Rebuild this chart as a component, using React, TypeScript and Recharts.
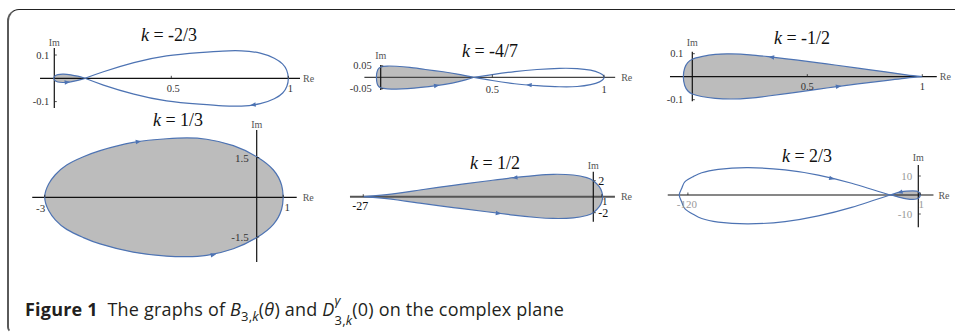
import React from 'react';
import { ComposedChart, Scatter, XAxis, YAxis } from 'recharts';

type P = [number, number];
type Tick = { v: number; t: string };
type Arrow = { x: number; y: number; a: number };

// ---------------- data (Re, Im) ----------------
// k = -2/3
const k1BigLoop: P[] = [[0.131,0],[0.21,0.028],[0.34,0.067],[0.48,0.096],[0.62,0.11],[0.72,0.117],[0.8,0.118],[0.88,0.108],[0.94,0.086],[0.975,0.062],[0.993,0.035],[1,0],[0.994,-0.034],[0.976,-0.063],[0.94,-0.088],[0.88,-0.109],[0.8,-0.119],[0.72,-0.118],[0.62,-0.111],[0.48,-0.097],[0.34,-0.068],[0.21,-0.029],[0.131,0]];
const k1SmallLobe: P[] = [[0.131,0],[0.1,0.009],[0.07,0.015],[0.04,0.018],[0.015,0.016],[0.002,0.009],[-0.002,0],[0.002,-0.009],[0.015,-0.016],[0.04,-0.018],[0.07,-0.015],[0.1,-0.009],[0.131,0]];
const k1ReTicks: Tick[] = [{ v: 0.5, t: '0.5' }, { v: 1, t: '1' }];
const k1ImTicks: Tick[] = [{ v: 0.1, t: '0.1' }, { v: -0.1, t: '-0.1' }];
const k1Arrows: Arrow[] = [{ x: 0.85, y: -0.114, a: 173 }, { x: 0.055, y: -0.017, a: -6 }];

// k = -4/7
const k2LeftLobe: P[] = [[0.418,0],[0.35,0.013],[0.28,0.024],[0.2,0.034],[0.13,0.043],[0.07,0.048],[0.03,0.049],[0.0,0.045],[-0.013,0.033],[-0.018,0.016],[-0.019,0],[-0.018,-0.017],[-0.013,-0.035],[0.0,-0.046],[0.03,-0.05],[0.07,-0.051],[0.12,-0.049],[0.18,-0.044],[0.25,-0.036],[0.32,-0.025],[0.38,-0.011],[0.418,0]];
const k2RightLobe: P[] = [[0.418,0],[0.5,0.012],[0.6,0.025],[0.7,0.034],[0.8,0.039],[0.88,0.038],[0.94,0.031],[0.98,0.019],[0.997,0.008],[1,0],[0.997,-0.008],[0.98,-0.02],[0.94,-0.032],[0.88,-0.04],[0.8,-0.041],[0.7,-0.036],[0.6,-0.028],[0.5,-0.014],[0.418,0]];
const k2ReTicks: Tick[] = [{ v: 0.5, t: '0.5' }, { v: 1, t: '1' }];
const k2ImTicks: Tick[] = [{ v: 0.05, t: '0.05' }, { v: -0.05, t: '-0.05' }];
const k2Arrows: Arrow[] = [{ x: 0.25, y: -0.036, a: -9 }, { x: 0.665, y: -0.033, a: 185 }];

// k = -1/2
const k3Loop: P[] = [[1,0],[0.93,0.008],[0.84,0.021],[0.72,0.037],[0.62,0.051],[0.55,0.06],[0.45,0.073],[0.33,0.087],[0.25,0.095],[0.17,0.099],[0.1,0.097],[0.04,0.087],[0.0,0.076],[-0.02,0.061],[-0.033,0.038],[-0.039,0],[-0.033,-0.038],[-0.02,-0.061],[0.0,-0.075],[0.04,-0.086],[0.1,-0.094],[0.17,-0.097],[0.25,-0.093],[0.33,-0.084],[0.45,-0.068],[0.55,-0.054],[0.62,-0.044],[0.72,-0.031],[0.84,-0.017],[0.93,-0.006],[1,0]];
const k3ReTicks: Tick[] = [{ v: 0.5, t: '0.5' }, { v: 1, t: '1' }];
const k3ImTicks: Tick[] = [{ v: 0.1, t: '0.1' }, { v: -0.1, t: '-0.1' }];
const k3Arrows: Arrow[] = [{ x: 0.345, y: 0.085, a: -173 }, { x: 0.635, y: -0.042, a: -8 }];

// k = 1/3
const k4Loop: P[] = [[1,0],[0.94,0.46],[0.63,1.03],[0,1.53],[-0.88,1.95],[-1.89,2.19],[-2.64,2.24],[-3.4,2.21],[-4.66,2.07],[-5.91,1.76],[-6.54,1.53],[-7.17,1.22],[-7.6,0.85],[-7.85,0.5],[-8,0],[-7.85,-0.5],[-7.6,-0.85],[-7.17,-1.21],[-6.54,-1.52],[-5.91,-1.76],[-4.66,-2.07],[-3.4,-2.22],[-2.64,-2.24],[-1.89,-2.19],[-0.88,-1.94],[0,-1.52],[0.63,-1.02],[0.94,-0.45],[1,0]];
const k4ReTicks: Tick[] = [{ v: -8, t: '-3' }, { v: 1, t: '1' }];
const k4ImTicks: Tick[] = [{ v: 1.5, t: '1.5' }, { v: -1.5, t: '-1.5' }];
const k4Arrows: Arrow[] = [{ x: -4.47, y: 2.1, a: -8 }, { x: -1.64, y: -2.17, a: -10 }];

// k = 1/2
const k5Loop: P[] = [[-27,0],[-24.25,0.25],[-20.35,0.84],[-16.43,1.42],[-12.51,1.96],[-9.39,2.38],[-6.64,2.67],[-4.69,2.8],[-2.35,2.71],[-0.77,2.38],[0,2.0],[0.7,1.25],[1.0,0.6],[1.1,0],[1.0,-0.6],[0.7,-1.25],[0,-2.0],[-0.77,-2.35],[-2.35,-2.65],[-4.69,-2.72],[-6.64,-2.6],[-9.39,-2.3],[-12.51,-1.88],[-16.43,-1.36],[-20.35,-0.8],[-24.25,-0.24],[-27,0]];
const k5ReTicks: Tick[] = [{ v: -27, t: '-27' }, { v: 1, t: '1' }];
const k5ImTicks: Tick[] = [{ v: 2, t: '2' }, { v: -2, t: '-2' }];
const k5Arrows: Arrow[] = [{ x: -9.19, y: 2.38, a: 172 }, { x: -11.15, y: -2.07, a: 7 }];

// k = 2/3
const k6BigLoop: P[] = [[-14.7,0],[-34.7,6.2],[-52.1,10.5],[-69.4,13.2],[-88.5,14.4],[-104.2,13.5],[-112.8,11.7],[-117,9.8],[-121.5,7.0],[-123.2,3.5],[-124.5,0],[-123.2,-3.7],[-121.5,-7.3],[-117,-10.3],[-112.8,-12.4],[-104.2,-14.3],[-88.5,-15.2],[-69.4,-14.0],[-52.1,-11.0],[-34.7,-6.5],[-14.7,0]];
const k6SmallLobe: P[] = [[-14.7,0],[-12,0.85],[-9,1.6],[-6,2.0],[-3,2.15],[-1,2.0],[0.3,1.5],[0.9,0.7],[1,0],[0.9,-0.7],[0.3,-1.5],[-1,-2.1],[-3,-2.3],[-6,-2.0],[-9,-1.4],[-12,-0.6],[-14.7,0]];
const k6ReTicks: Tick[] = [{ v: -120, t: '-120' }, { v: 1, t: '1' }];
const k6ImTicks: Tick[] = [{ v: 10, t: '10' }, { v: -10, t: '-10' }];
const k6Arrows: Arrow[] = [{ x: -45.1, y: 8.7, a: 14 }, { x: -9.5, y: 1.5, a: 165 }];

// ---------------- styling / layout ----------------
const BLUE = '#4d73b3';
const FILL = '#bcbcbc';
const SERIF = 'Liberation Serif';

interface Cfg {
  title: string;
  titleAt: [number, number];
  box: { left: number; top: number; width: number; height: number };
  origin: [number, number];
  scale: [number, number];
  reAxis: [number, number];
  imAxis: [number, number];
  loops: P[][];
  fills: P[][];
  reTicks: Tick[];
  imTicks: Tick[];
  arrows: Arrow[];
  tickColor: string;
  tickSize: number;
  reDy: number;
  reDyPos: number;
  reSizePos: number;
  reOut: number;
  imGap: number;
  imSide: 'left' | 'right';
  reGap: number;
  imNameDy: number;
  reStroke: string;
  reWidth: number;
}

const plots: Cfg[] = [
  {
    title: '-2/3', titleAt: [169, 35],
    box: { left: 30, top: 25, width: 295, height: 90 }, origin: [54.3, 78.3], scale: [234, 233],
    reAxis: [-0.061, 1.05], imAxis: [-0.127, 0.13],
    loops: [k1BigLoop, k1SmallLobe], fills: [k1SmallLobe],
    reTicks: k1ReTicks, imTicks: k1ImTicks, arrows: k1Arrows,
    tickColor: '#333', tickSize: 10.5, reDy: 10, reDyPos: 10, reSizePos: 10.5, reOut: 2, imGap: 5, imSide: 'left', reGap: 3, imNameDy: -6,
    reStroke: '#111', reWidth: 1.2,
  },
  {
    title: '-4/7', titleAt: [490, 51],
    box: { left: 335, top: 42, width: 300, height: 58 }, origin: [380.7, 77.3], scale: [223.3, 230],
    reAxis: [-0.073, 1.05], imAxis: [-0.055, 0.053],
    loops: [k2LeftLobe, k2RightLobe], fills: [k2LeftLobe],
    reTicks: k2ReTicks, imTicks: k2ImTicks, arrows: k2Arrows,
    tickColor: '#333', tickSize: 10.5, reDy: 12, reDyPos: 12, reSizePos: 10.5, reOut: 0, imGap: 9, imSide: 'left', reGap: 6, imNameDy: -10,
    reStroke: '#444', reWidth: 1.3,
  },
  {
    title: '-1/2', titleAt: [802, 38],
    box: { left: 650, top: 30, width: 305, height: 80 }, origin: [692.3, 76.7], scale: [230, 230],
    reAxis: [-0.097, 1.063], imAxis: [-0.107, 0.109],
    loops: [k3Loop], fills: [k3Loop],
    reTicks: k3ReTicks, imTicks: k3ImTicks, arrows: k3Arrows,
    tickColor: '#333', tickSize: 10.5, reDy: 10, reDyPos: 10, reSizePos: 10.5, reOut: 0, imGap: 9, imSide: 'left', reGap: 3, imNameDy: -9,
    reStroke: '#111', reWidth: 1.2,
  },
  {
    title: '1/3', titleAt: [178, 120],
    box: { left: 20, top: 115, width: 300, height: 155 }, origin: [256.7, 197.3], scale: [26.5, 26.5],
    reAxis: [-8.47, 1.51], imAxis: [-2.44, 2.54],
    loops: [k4Loop], fills: [k4Loop],
    reTicks: k4ReTicks, imTicks: k4ImTicks, arrows: k4Arrows,
    tickColor: '#333', tickSize: 11, reDy: 11, reDyPos: 10, reSizePos: 11, reOut: 4, imGap: 8, imSide: 'left', reGap: 6, imNameDy: -5,
    reStroke: '#111', reWidth: 1.2,
  },
  {
    title: '1/2', titleAt: [495, 163],
    box: { left: 340, top: 155, width: 300, height: 75 }, origin: [593.3, 196.7], scale: [8.52, 8.0],
    reAxis: [-28.56, 2.54], imAxis: [-3.125, 3.125],
    loops: [k5Loop], fills: [k5Loop],
    reTicks: k5ReTicks, imTicks: k5ImTicks, arrows: k5Arrows,
    tickColor: '#111', tickSize: 12, reDy: 9, reDyPos: 5, reSizePos: 10, reOut: 3, imGap: 5, imSide: 'right', reGap: 6, imNameDy: -6,
    reStroke: '#555', reWidth: 2,
  },
  {
    title: '2/3', titleAt: [807, 156],
    box: { left: 655, top: 145, width: 300, height: 90 }, origin: [918.3, 195], scale: [1.92, 1.9],
    reAxis: [-130.5, 7.9], imAxis: [-17.0, 15.8],
    loops: [k6BigLoop, k6SmallLobe], fills: [k6SmallLobe],
    reTicks: k6ReTicks, imTicks: k6ImTicks, arrows: k6Arrows,
    tickColor: '#999', tickSize: 11, reDy: 9, reDyPos: 9, reSizePos: 11, reOut: 1, imGap: 6, imSide: 'left', reGap: 5, imNameDy: -7,
    reStroke: '#111', reWidth: 1.2,
  },
];

const toXY = (pts: P[]) => pts.map(([x, y]) => ({ x, y }));
const noShape = () => <g />;

function Plot({ c }: { c: Cfg }) {
  const { box, origin, scale } = c;
  const xDomain = [(box.left - origin[0]) / scale[0], (box.left + box.width - origin[0]) / scale[0]];
  const yDomain = [(origin[1] - box.top - box.height) / scale[1], (origin[1] - box.top) / scale[1]];

  const reTickShape = (p: any) => {
    const pos = p.payload.x > 0.75;
    return (
      <g>
        <line x1={p.cx} x2={p.cx} y1={p.cy} y2={p.cy - 2.5} stroke="#222" strokeWidth={0.8} />
        <text
          x={p.cx + Math.sign(p.payload.x) * c.reOut}
          y={p.cy + (pos ? c.reDyPos : c.reDy)}
          textAnchor="middle"
          dominantBaseline="central"
          fontFamily={SERIF}
          fontSize={pos ? c.reSizePos : c.tickSize}
          fill={c.tickColor}
        >
          {p.payload.t}
        </text>
      </g>
    );
  };
  const imTickShape = (p: any) => (
    <g>
      <line x1={p.cx} x2={p.cx + 2.5} y1={p.cy} y2={p.cy} stroke="#222" strokeWidth={0.8} />
      <text
        x={c.imSide === 'left' ? p.cx - c.imGap : p.cx + c.imGap}
        y={p.cy}
        textAnchor={c.imSide === 'left' ? 'end' : 'start'}
        dominantBaseline="central"
        fontFamily={SERIF}
        fontSize={c.tickSize}
        fill={c.tickColor}
      >
        {p.payload.t}
      </text>
    </g>
  );
  const reNameShape = (p: any) => (
    <text x={p.cx + c.reGap} y={p.cy} dominantBaseline="central" fontFamily={SERIF} fontSize={10} fill="#555">Re</text>
  );
  const imNameShape = (p: any) => (
    <text x={p.cx} y={p.cy + c.imNameDy} textAnchor="middle" dominantBaseline="central" fontFamily={SERIF} fontSize={10} fill="#555">Im</text>
  );
  const arrowShape = (p: any) => {
    const a = (p.payload.a * Math.PI) / 180;
    const ux = Math.cos(a), uy = Math.sin(a);
    const tipX = p.cx + 3 * ux, tipY = p.cy + 3 * uy;
    const bx = p.cx - 2.5 * ux, by = p.cy - 2.5 * uy;
    const w = 2.2;
    return <path d={`M${tipX},${tipY}L${bx - w * uy},${by + w * ux}L${bx + w * uy},${by - w * ux}Z`} fill={BLUE} />;
  };

  return (
    <div style={{ position: 'absolute', left: box.left, top: box.top }}>
      <ComposedChart width={box.width} height={box.height} margin={{ top: 0, right: 0, bottom: 0, left: 0 }}>
        <XAxis type="number" dataKey="x" domain={xDomain} allowDataOverflow hide />
        <YAxis type="number" dataKey="y" domain={yDomain} allowDataOverflow hide />
        {c.fills.map((f, i) => (
          <Scatter key={'fill' + i} data={toXY(f)} line={{ stroke: 'none', fill: FILL }} lineType="joint" lineJointType="natural" shape={noShape} isAnimationActive={false} />
        ))}
        <Scatter data={[{ x: c.reAxis[0], y: 0 }, { x: c.reAxis[1], y: 0 }]} line={{ stroke: c.reStroke, strokeWidth: c.reWidth }} lineType="joint" shape={noShape} isAnimationActive={false} />
        <Scatter data={[{ x: 0, y: c.imAxis[0] }, { x: 0, y: c.imAxis[1] }]} line={{ stroke: '#111', strokeWidth: 1.2 }} lineType="joint" shape={noShape} isAnimationActive={false} />
        {c.loops.map((l, i) => (
          <Scatter key={'loop' + i} data={toXY(l)} line={{ stroke: BLUE, strokeWidth: 1.2, fill: 'none' }} lineType="joint" lineJointType="natural" shape={noShape} isAnimationActive={false} />
        ))}
        <Scatter data={c.arrows} shape={arrowShape} isAnimationActive={false} />
        <Scatter data={c.reTicks.map((t) => ({ x: t.v, y: 0, t: t.t }))} shape={reTickShape} isAnimationActive={false} />
        <Scatter data={c.imTicks.map((t) => ({ x: 0, y: t.v, t: t.t }))} shape={imTickShape} isAnimationActive={false} />
        <Scatter data={[{ x: c.reAxis[1], y: 0 }]} shape={reNameShape} isAnimationActive={false} />
        <Scatter data={[{ x: 0, y: c.imAxis[1] }]} shape={imNameShape} isAnimationActive={false} />
      </ComposedChart>
      <div
        style={{
          position: 'absolute',
          left: c.titleAt[0] - box.left,
          top: c.titleAt[1] - box.top,
          transform: 'translate(-50%, -50%)',
          fontFamily: SERIF,
          fontSize: 18,
          color: '#111',
          whiteSpace: 'nowrap',
          pointerEvents: 'none',
        }}
      >
        <i>k</i>&nbsp;=&nbsp;{c.title}
      </div>
    </div>
  );
}

export default function App() {
  return (
    <div style={{ position: 'absolute', left: 0, top: 0, width: 955, height: 335, overflow: 'hidden', background: '#fff' }}>
      <div
        style={{
          position: 'absolute',
          left: 7,
          top: 9,
          width: 1000,
          height: 324,
          borderTop: '1.4px solid #222',
          borderLeft: '2px solid #5a5a5a',
          borderBottom: '2px solid transparent',
          borderTopLeftRadius: 12,
          borderBottomLeftRadius: 6,
          boxSizing: 'border-box',
        }}
      />
      {plots.map((c, i) => (
        <Plot key={i} c={c} />
      ))}
      <div
        style={{
          position: 'absolute',
          left: 25,
          top: 297,
          fontFamily: '"Open Sans", "Noto Sans", sans-serif',
          fontSize: 18,
          letterSpacing: 0.2,
          color: '#231f20',
          whiteSpace: 'nowrap',
          lineHeight: '24px',
        }}
      >
        <b>Figure 1</b>&nbsp;&nbsp;The graphs of <i>B</i>
        <sub style={{ fontSize: 13 }}>
          3,<i>k</i>
        </sub>
        (<i>θ</i>) and <i>D</i>
        <span style={{ display: 'inline-block', verticalAlign: 'middle', lineHeight: '11px', fontSize: 13, marginTop: -2 }}>
          <span style={{ display: 'block', position: 'relative', top: -4 }}>
            <i>γ</i>
          </span>
          <span style={{ display: 'block', position: 'relative', top: 5 }}>
            3,<i>k</i>
          </span>
        </span>
        (0) on the complex plane
      </div>
    </div>
  );
}
